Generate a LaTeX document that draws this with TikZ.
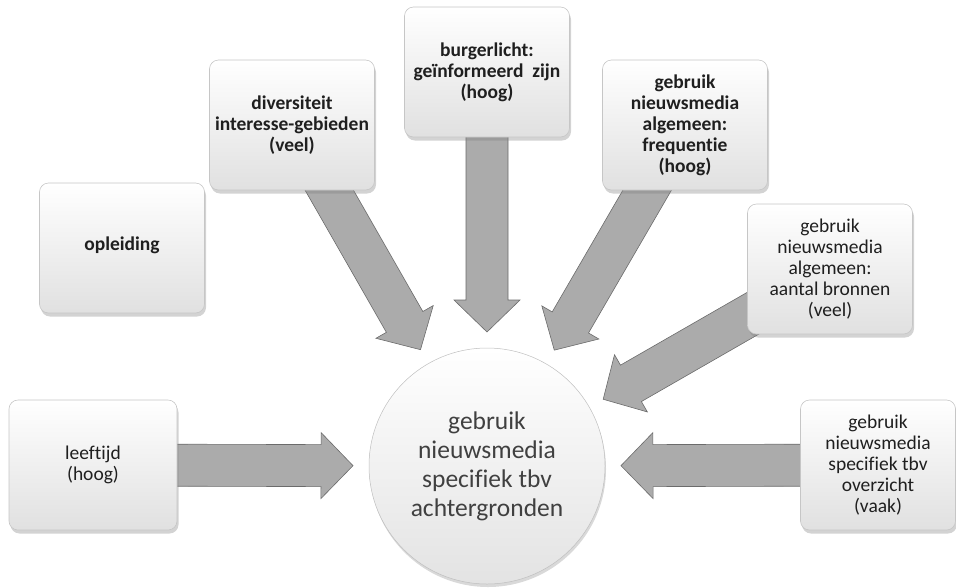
\documentclass[tikz,border=0pt]{standalone}
\usepackage{fontspec}
\setmainfont{Carlito}[RawFeature={-liga}]
\usetikzlibrary{calc,shadows}
\pgfdeclarelayer{bg}
\pgfsetlayers{bg,main}
\tikzset{
  box/.style={rectangle, rounded corners=9pt, minimum width=165pt, minimum height=130pt,
    inner sep=2pt, align=center, top color=white, bottom color=gray!24, draw=gray!45,
    line width=0.6pt, font=\bfseries\fontsize{19.5}{21}\selectfont, text=black!88,
    drop shadow={opacity=0.35, shadow xshift=1.5pt, shadow yshift=-3.5pt}},
  boxr/.style={box, font=\fontsize{19.5}{21}\selectfont},
  hub/.style={circle, minimum size=236pt, inner sep=0pt, align=center,
    top color=white, bottom color=gray!22, draw=gray!50, line width=0.5pt,
    font=\fontsize{25.5}{29}\selectfont, text=black!75,
    drop shadow={opacity=0.3, shadow xshift=1pt, shadow yshift=-3pt}},
  arrowbody/.style={fill=gray!66, draw=black!58, line width=0.6pt, line join=miter},
}
\newcommand\fatarrow[1]{%
  \coordinate (t#1) at ($(hub.center)!134pt!(#1.center)$);
  \coordinate (h#1) at ($(t#1)!32pt!(#1.center)$);
  \path[arrowbody] (t#1) -- ($(h#1)!33pt!90:(t#1)$) -- ($(h#1)!21pt!90:(t#1)$)
    -- ($(#1.center)!21pt!90:(t#1)$) -- ($(#1.center)!21pt!-90:(t#1)$)
    -- ($(h#1)!21pt!-90:(t#1)$) -- ($(h#1)!33pt!-90:(t#1)$) -- cycle;
}
\begin{document}
\begin{tikzpicture}[x=1pt,y=-1pt]
  \useasboundingbox (0,0) rectangle (956,587);
  \node[hub] (hub) at (487,466) {gebruik\\nieuwsmedia\\specifiek tbv\\achtergronden};
  \node[box] (opl) at (122,248) {\raisebox{8pt}{opleiding}};
  \node[box] (div) at (292,125) {diversiteit\\interesse-gebieden\\(veel)};
  \node[box] (bur) at (487,72) {burgerlicht:\\geïnformeerd~~zijn\\(hoog)};
  \node[box] (fre) at (685,125) {gebruik\\nieuwsmedia\\algemeen:\\frequentie\\(hoog)};
  \node[boxr] (aan) at (830,269) {gebruik\\nieuwsmedia\\algemeen:\\aantal bronnen\\(veel)};
  \node[boxr, minimum width=168pt] (lee) at (93,465) {leeftijd\\(hoog)};
  \node[boxr, minimum width=155pt] (ove) at (878,465) {gebruik\\nieuwsmedia\\specifiek tbv\\overzicht\\(vaak)};
  \begin{pgfonlayer}{bg}
    \fatarrow{div}
    \fatarrow{bur}
    \fatarrow{fre}
    \fatarrow{aan}
    \fatarrow{lee}
    \fatarrow{ove}
  \end{pgfonlayer}
\end{tikzpicture}
\end{document}
